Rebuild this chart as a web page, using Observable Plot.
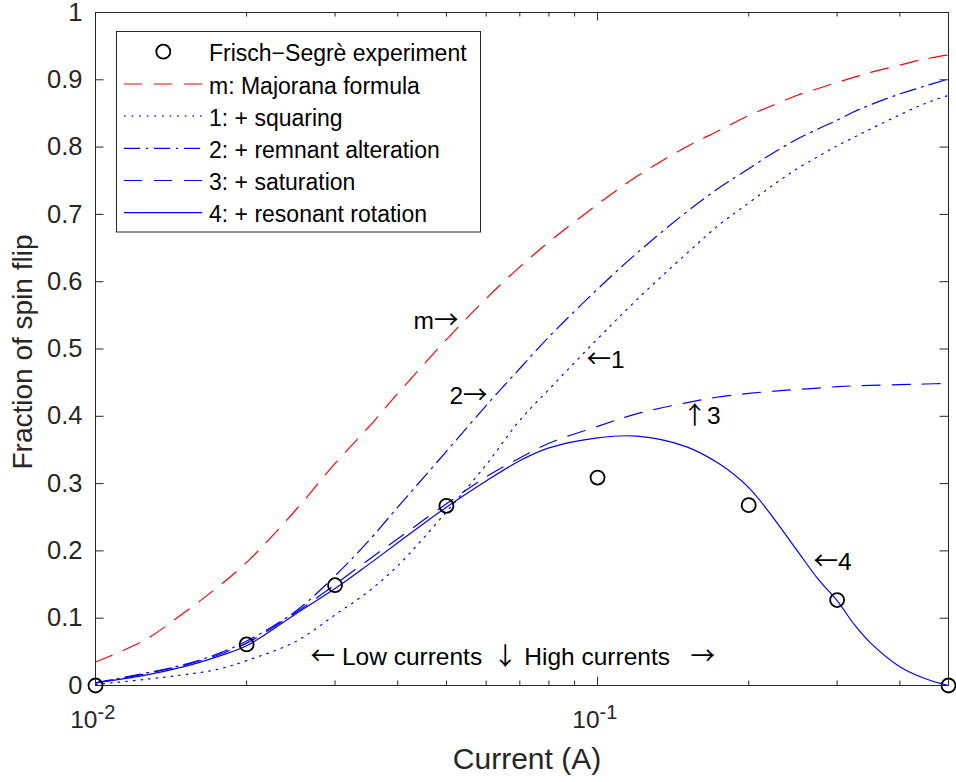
<!DOCTYPE html>
<html>
<head>
<meta charset="utf-8">
<script src="https://cdn.jsdelivr.net/npm/d3@7"></script>
<script src="https://cdn.jsdelivr.net/npm/@observablehq/plot@0.6"></script>
<style>
  body { margin: 0; background: #fff; }
  #chart svg { font-family: "Liberation Sans", Arial, Helvetica, sans-serif; }
</style>
</head>
<body>
<div id="chart"></div>
<script>
// ---------- data ----------
const current = [0.01, 0.0125, 0.015, 0.0175, 0.02, 0.025, 0.03, 0.035, 0.04, 0.05, 0.06, 0.07, 0.08, 0.1, 0.12, 0.15, 0.175, 0.2, 0.225, 0.25, 0.275, 0.3, 0.325, 0.35, 0.4, 0.45, 0.5];
const majorana   = [0.035, 0.067, 0.108, 0.146, 0.183, 0.26, 0.33, 0.384, 0.434, 0.514, 0.575, 0.622, 0.659, 0.715, 0.757, 0.80, 0.825, 0.847, 0.863, 0.877, 0.887, 0.896, 0.904, 0.911, 0.922, 0.931, 0.937];
const squaring   = [0.0015, 0.009, 0.016, 0.024, 0.037, 0.065, 0.105, 0.14, 0.178, 0.258, 0.328, 0.394, 0.44, 0.515, 0.574, 0.641, 0.685, 0.717, 0.745, 0.768, 0.786, 0.802, 0.815, 0.827, 0.848, 0.865, 0.877];
const remnant    = [0.004, 0.018, 0.031, 0.047, 0.066, 0.11, 0.163, 0.215, 0.265, 0.348, 0.416, 0.471, 0.518, 0.589, 0.643, 0.703, 0.74, 0.768, 0.7925, 0.812, 0.827, 0.84, 0.853, 0.863, 0.879, 0.891, 0.901];
const saturation = [0.004, 0.017, 0.03, 0.045, 0.063, 0.108, 0.15, 0.187, 0.218, 0.27, 0.31, 0.338, 0.36, 0.385, 0.404, 0.42, 0.429, 0.434, 0.4375, 0.44, 0.442, 0.444, 0.4453, 0.446, 0.447, 0.448, 0.449];
const resonant   = [0.004, 0.015, 0.028, 0.043, 0.059, 0.106, 0.144, 0.18, 0.212, 0.265, 0.304, 0.334, 0.353, 0.368, 0.3705, 0.355, 0.329, 0.294, 0.247, 0.20, 0.158, 0.126, 0.09, 0.063, 0.028, 0.010, 0.0];

const expCurrent  = [0.01, 0.02, 0.03, 0.05, 0.1, 0.2, 0.3, 0.5];
const expFraction = [0, 0.061, 0.149, 0.267, 0.309, 0.268, 0.127, 0];

const seriesLabels = ["Frisch\u2212Segrè experiment", "m: Majorana formula", "1: + squaring", "2: + remnant alteration", "3: + saturation", "4: + resonant rotation"];

const yTicks = [0, 0.1, 0.2, 0.3, 0.4, 0.5, 0.6, 0.7, 0.8, 0.9, 1];
const yTickLabels = ["0", "0.1", "0.2", "0.3", "0.4", "0.5", "0.6", "0.7", "0.8", "0.9", "1"];
const xMajor = [0.01, 0.1];
const xMajorBase = ["10", "10"];
const xMajorExp = ["-2", "-1"];
const xMinor = [0.02, 0.03, 0.04, 0.05, 0.06, 0.07, 0.08, 0.09, 0.2, 0.3, 0.4];

const annText = ["m\u2192", "2\u2192", "\u21901", "\u21913", "\u21904", "\u2190 Low currents \u2193 High currents  \u2192"];
const annX    = [0.043, 0.0507, 0.0951, 0.1477, 0.2693, 0.02682];
const annY    = [0.542, 0.4294, 0.483, 0.3997, 0.1828, 0.0416];

// ---------- layout & styles ----------
const W = 956, H = 782;
const ML = 95, MR = 8, MT = 12, MB = 97;
const FW = W - ML - MR, FH = H - MT - MB;
const AX = "#262626";
const FONT = '"Liberation Sans", Arial, Helvetica, sans-serif';
const ARROW_FONT = '"Noto Sans CJK SC", "DejaVu Sans", sans-serif';

const lineStyles = [
  {values: majorana,   stroke: "#ff0000", dash: "18,12"},
  {values: squaring,   stroke: "#0000ff", dash: "1.6,6"},
  {values: remnant,    stroke: "#0000ff", dash: "16,6,2,6"},
  {values: saturation, stroke: "#0000ff", dash: "18,12"},
  {values: resonant,   stroke: "#0000ff", dash: null}
];

const lineMarks = lineStyles.map(s =>
  Plot.line(current.map((c, i) => ({c, v: s.values[i]})), {
    x: "c", y: "v", stroke: s.stroke, strokeWidth: 1.2,
    strokeDasharray: s.dash ?? undefined, curve: "catmull-rom"
  })
);

const expData = expCurrent.map((c, i) => ({c, v: expFraction[i]}));
const annData = annText.map((t, i) => ({t, x: annX[i], y: annY[i]}));

const chart = Plot.plot({
  width: W, height: H,
  marginLeft: ML, marginRight: MR, marginTop: MT, marginBottom: MB,
  style: {fontFamily: FONT, background: "white", overflow: "visible"},
  x: {type: "log", domain: [0.01, 0.5], axis: null},
  y: {domain: [0, 1], axis: null},
  marks: [
    // inward ticks
    Plot.tickY(yTicks, {y: d => d, stroke: AX, insetRight: FW - 8.5}),
    Plot.tickY(yTicks, {y: d => d, stroke: AX, insetLeft: FW - 8.5}),
    Plot.tickX(xMajor, {x: d => d, stroke: AX, insetTop: FH - 8.5}),
    Plot.tickX(xMajor, {x: d => d, stroke: AX, insetBottom: FH - 8.5}),
    Plot.tickX(xMinor, {x: d => d, stroke: AX, insetTop: FH - 4.5}),
    Plot.tickX(xMinor, {x: d => d, stroke: AX, insetBottom: FH - 4.5}),
    // tick labels
    Plot.text(yTicks, {y: d => d, text: (d, i) => yTickLabels[i], frameAnchor: "left", dx: -13, textAnchor: "end", lineAnchor: "middle", fontSize: 25.5, fill: AX}),
    Plot.text(xMajor, {x: d => d, text: (d, i) => xMajorBase[i], frameAnchor: "bottom", dx: 2, dy: 35, textAnchor: "end", lineAnchor: "middle", fontSize: 24.5, fill: AX}),
    Plot.text(xMajor, {x: d => d, text: (d, i) => xMajorExp[i], frameAnchor: "bottom", dx: 2, dy: 27.5, textAnchor: "start", lineAnchor: "middle", fontSize: 20, fill: AX}),
    // axis titles
    Plot.text(["Current (A)"], {frameAnchor: "bottom", dx: 5, dy: 74, textAnchor: "middle", lineAnchor: "middle", fontSize: 30, fill: AX}),
    Plot.text(["Fraction of spin flip"], {frameAnchor: "left", dx: -72, dy: 3, rotate: -90, textAnchor: "middle", lineAnchor: "middle", fontSize: 28, fill: AX}),
    // curves
    ...lineMarks,
    Plot.dot(expData, {x: "c", y: "v", r: 7, stroke: "black", strokeWidth: 1.8, fill: "none"}),
    // annotations
    Plot.text(annData, {x: "x", y: "y", text: "t", textAnchor: "start", lineAnchor: "middle", fontSize: 24.5, fill: "black"}),
    Plot.frame({stroke: AX, strokeWidth: 1})
  ]
});

document.getElementById("chart").appendChild(chart);

const svg = d3.select(chart);

// arrows in the annotations: use a font whose arrows are a full em wide
const ARROW = /([\u2190-\u2193])/;
svg.selectAll("text").each(function () {
  const t = this.textContent;
  if (!ARROW.test(t)) return;
  const parts = t.split(ARROW).filter(p => p !== "");
  const sel = d3.select(this).style("white-space", "pre");
  sel.text(null);
  parts.forEach((p, k) => {
    const ts = sel.append("tspan").text(p);
    if (ARROW.test(p)) {
      ts.attr("font-family", ARROW_FONT);
      if (p === "\u2193") ts.attr("dx", 4);
      if (p === "\u2192" && k > 0 && /\s$/.test(parts[k - 1])) ts.attr("dx", 7);
    }
  });
});

// ---------- legend (inside the axes) ----------
const lg = svg.append("g").attr("font-family", FONT).attr("text-anchor", "start");
const LX = 116.5, LY = 31.5, LW = 364, LH = 200.5;
lg.append("rect").attr("x", LX).attr("y", LY).attr("width", LW).attr("height", LH)
  .attr("fill", "white").attr("stroke", AX).attr("stroke-width", 1);
const rowY = [51.7, 84, 116.2, 148.4, 180.5, 212.6];
seriesLabels.forEach((lab, i) => {
  const y = rowY[i];
  if (i === 0) {
    lg.append("circle").attr("cx", 163.3).attr("cy", y).attr("r", 7)
      .attr("fill", "none").attr("stroke", "black").attr("stroke-width", 1.8);
  } else {
    const s = lineStyles[i - 1];
    lg.append("line").attr("x1", 124).attr("x2", 202).attr("y1", y).attr("y2", y)
      .attr("stroke", s.stroke).attr("stroke-width", 1.2)
      .attr("stroke-dasharray", s.dash);
  }
  lg.append("text").attr("x", 209).attr("y", y + 1.5).attr("dy", "0.35em")
    .attr("text-anchor", "start")
    .attr("font-size", 23).attr("fill", "black").text(lab);
});
</script>
</body>
</html>
